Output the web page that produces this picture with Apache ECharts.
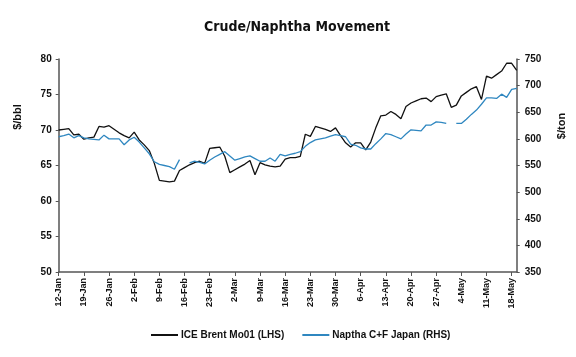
<!DOCTYPE html>
<html>
<head>
<meta charset="utf-8">
<script src="https://cdn.jsdelivr.net/npm/echarts@6/dist/echarts.min.js"></script>
<style>
html,body{margin:0;padding:0;background:#fff;}
#chart{width:576px;height:357px;}
</style>
</head>
<body>
<div id="chart"></div>
<script>
// Business days from 12-Jan to 21-May (category axis); weekly tick labels
const startDate = '2018-01-12';
const dayCount = 92;
const tickLabels = ['12-Jan','19-Jan','26-Jan','2-Feb','9-Feb','16-Feb','23-Feb','2-Mar','9-Mar','16-Mar','23-Mar','30-Mar','6-Apr','13-Apr','20-Apr','27-Apr','4-May','11-May','18-May'];

// ICE Brent Mo01 ($/bbl, left axis)
const brent = [
  70.0, 70.1, 70.2, 69.3, 69.4, 68.7, 68.9, 69.0, 70.5, 70.4,
  70.6, 70.1, 69.6, 69.2, 68.9, 69.7, 68.6, 67.9, 67.1, 65.3,
  62.9, 62.8, 62.7, 62.8, 64.3, 64.7, 65.1, 65.4, 65.6, 65.3,
  67.4, 67.5, 67.6, 66.3, 64.0, 64.4, 64.8, 65.2, 65.7, 63.7,
  65.4, 65.1, 64.9, 64.8, 64.9, 65.9, 66.1, 66.1, 66.3, 69.4,
  69.1, 70.5, 70.3, 70.1, 69.8, 70.3, 69.2, 68.2, 67.6, 68.2,
  68.2, 67.2, 68.3, 70.3, 72.0, 72.1, 72.6, 72.2, 71.6, 73.3,
  73.8, 74.1, 74.4, 74.5, 74.0, 74.7, 74.9, 75.1, 73.2, 73.5,
  74.8, 75.3, 75.8, 76.1, 74.3, 77.6, 77.3, 77.8, 78.3, 79.4,
  79.4, 78.4
];

// Naptha C+F Japan ($/ton, right axis)
const naphtha = [
  604, 606, 609, 602, 606, 602, 600, 599, 598, 607,
  600, 600, 600, 589, 598, 603, 594, 583, 572, 557,
  552, 550, 548, 543, 561, null, 555, 558, 556, 553,
  560, 566, 571, 576, 568, 560, 563, 566, 568, 563,
  558, 558, 564, 558, 571, 568, 571, 573, 576, 586,
  593, 598, 600, 602, 605, 608, 606, 604, 590, 588,
  583, 581, 581, 591, 600, 610, 608, 604, 600, 609,
  617, 616, 615, 626, 626, 632, 631, 629, null, 629,
  629, 637, 646, 654, 665, 677, 677, 676, 684, 678,
  693, 695
];

const monthNames = ['Jan','Feb','Mar','Apr','May','Jun','Jul','Aug','Sep','Oct','Nov','Dec'];
const categories = [];
(function(){
  const d = new Date(startDate + 'T00:00:00Z');
  while (categories.length < dayCount) {
    const wd = d.getUTCDay();
    if (wd !== 0 && wd !== 6) categories.push(d.getUTCDate() + '-' + monthNames[d.getUTCMonth()]);
    d.setUTCDate(d.getUTCDate() + 1);
  }
})();

const labelFont = {fontFamily: 'Liberation Sans, Arial, sans-serif', fontWeight: 'bold', color: '#111'};

const chart = echarts.init(document.getElementById('chart'), null, {renderer: 'canvas'});
chart.setOption({
  animation: false,
  backgroundColor: '#fff',
  title: {
    text: 'Crude/Naphtha Movement',
    left: 292, top: 15, textAlign: 'center',
    textStyle: {fontFamily: 'DejaVu Sans Condensed, DejaVu Sans, sans-serif', fontWeight: 'bold', fontSize: 14, color: '#111'}
  },
  grid: {left: 58.7, right: 59.3, top: 59, bottom: 85, containLabel: false},
  legend: {
    bottom: 12, left: 146,
    itemWidth: 27, itemHeight: 2, itemGap: 18, icon: 'rect',
    textStyle: Object.assign({fontSize: 10, padding: [0,0,0,-2]}, labelFont),
    data: ['ICE Brent Mo01 (LHS)', 'Naptha C+F Japan (RHS)']
  },
  xAxis: {
    type: 'category', data: categories, boundaryGap: false,
    axisLine: {lineStyle: {color: '#555', width: 1.5}},
    axisTick: {show: true, interval: 4, length: 4, lineStyle: {color: '#555'}},
    axisLabel: Object.assign({interval: 4, rotate: 90, fontSize: 9, margin: 6}, labelFont),
    splitLine: {show: false}
  },
  yAxis: [
    {
      type: 'value', min: 50, max: 80, interval: 5, position: 'left',
      axisLine: {show: true, lineStyle: {color: '#555', width: 1.5}},
      axisTick: {show: true, length: 3, lineStyle: {color: '#555'}},
      axisLabel: Object.assign({fontSize: 10, margin: 7}, labelFont),
      splitLine: {show: false}
    },
    {
      type: 'value', min: 350, max: 750, interval: 50, position: 'right',
      axisLine: {show: true, lineStyle: {color: '#555', width: 1.5}},
      axisTick: {show: true, length: 3, lineStyle: {color: '#555'}},
      axisLabel: Object.assign({fontSize: 10, margin: 8}, labelFont),
      splitLine: {show: false}
    }
  ],
  graphic: [
    {type: 'text', x: 18, y: 117, rotation: Math.PI/2,
     style: {text: '$/bbl', fill: '#111', font: 'bold 11px Liberation Sans, Arial, sans-serif', textAlign: 'center', textVerticalAlign: 'middle'}},
    {type: 'text', x: 562, y: 126, rotation: Math.PI/2,
     style: {text: '$/ton', fill: '#111', font: 'bold 11px Liberation Sans, Arial, sans-serif', textAlign: 'center', textVerticalAlign: 'middle'}}
  ],
  series: [
    {
      name: 'ICE Brent Mo01 (LHS)', type: 'line', yAxisIndex: 0, data: brent,
      showSymbol: false, symbol: 'none', connectNulls: false,
      lineStyle: {color: '#111', width: 1.3}, itemStyle: {color: '#111'}
    },
    {
      name: 'Naptha C+F Japan (RHS)', type: 'line', yAxisIndex: 1, data: naphtha,
      showSymbol: false, symbol: 'none', connectNulls: false,
      lineStyle: {color: '#2f87c0', width: 1.3}, itemStyle: {color: '#2f87c0'}
    }
  ]
});
</script>
</body>
</html>
